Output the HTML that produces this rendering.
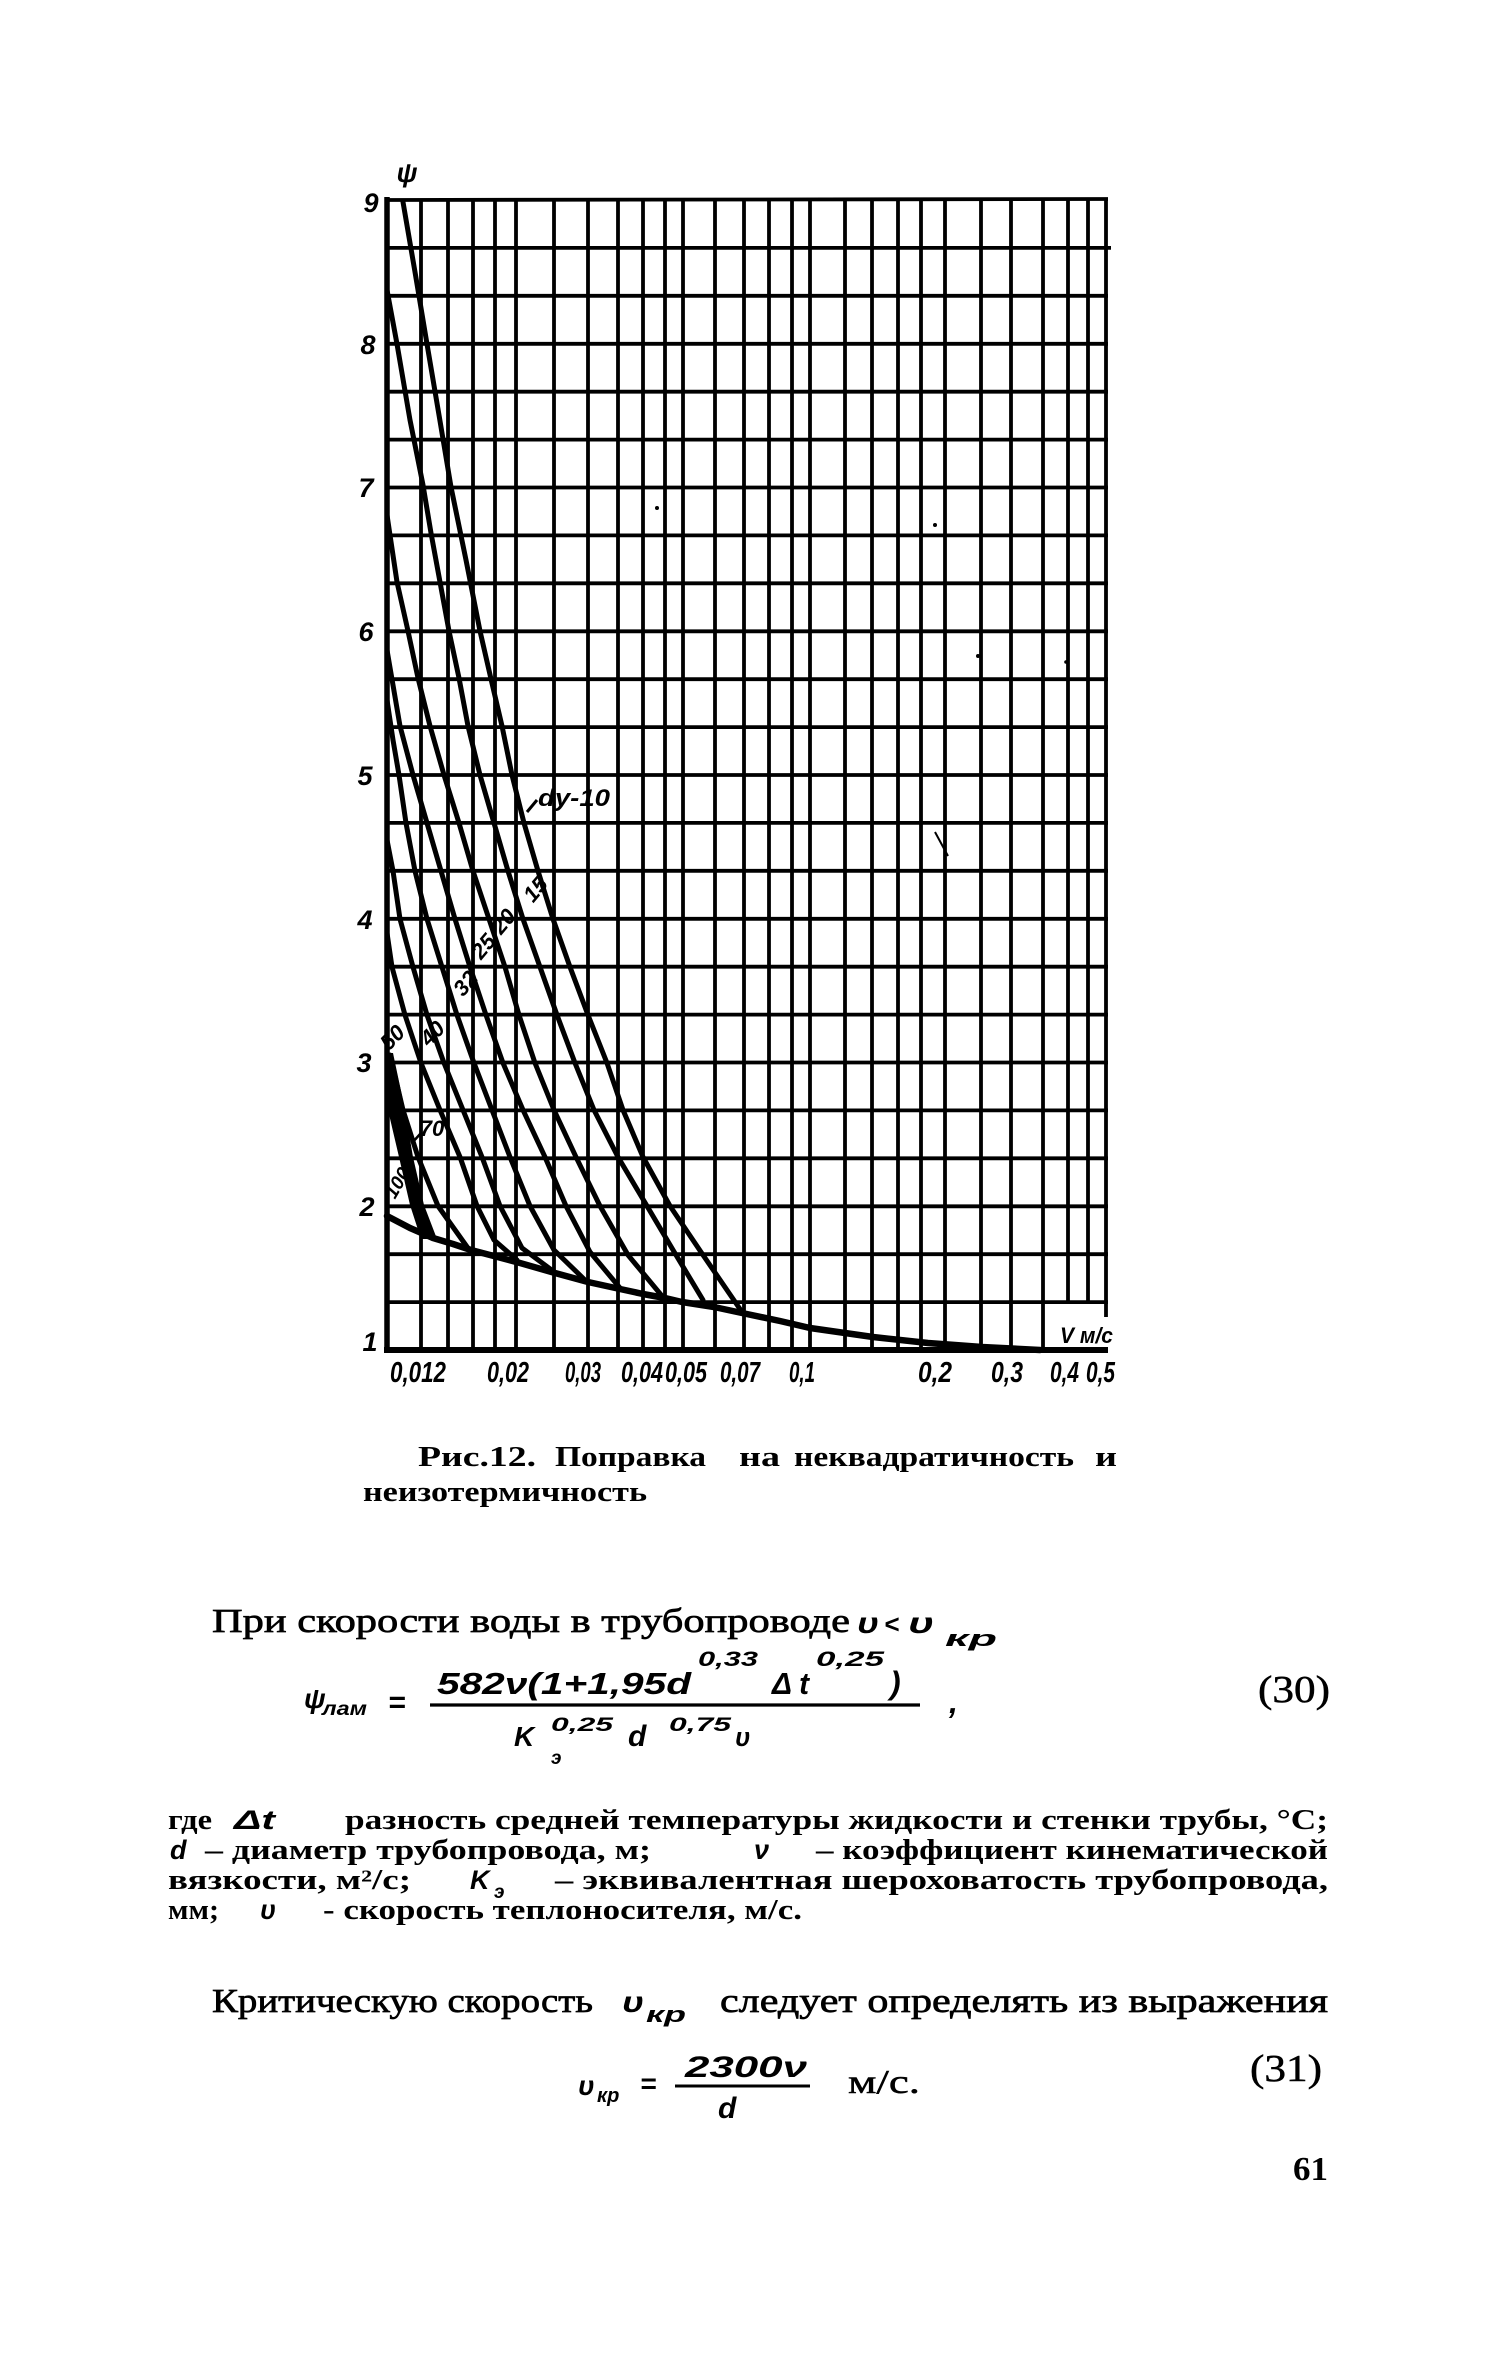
<!DOCTYPE html>
<html><head><meta charset="utf-8"><style>
html,body{margin:0;padding:0;background:#fff;}
svg{display:block;}
.h{font-family:"Liberation Sans",sans-serif;font-style:italic;font-weight:bold;}
.f{font-family:"Liberation Sans",sans-serif;font-style:italic;}
.s{font-family:"Liberation Serif","Noto Serif CJK SC",serif;}
</style></head><body>
<svg width="1500" height="2361" viewBox="0 0 1500 2361" xmlns="http://www.w3.org/2000/svg">
<rect width="1500" height="2361" fill="#fff"/>
<!-- grid verticals -->
<g stroke="#000" stroke-width="3.8" fill="none">
<line x1="421" y1="200" x2="421" y2="1350"/>
<line x1="448" y1="200" x2="448" y2="1350"/>
<line x1="473" y1="200" x2="473" y2="1350"/>
<line x1="495" y1="200" x2="495" y2="1350"/>
<line x1="516" y1="200" x2="516" y2="1350"/>
<line x1="554" y1="200" x2="554" y2="1350"/>
<line x1="588" y1="200" x2="588" y2="1350"/>
<line x1="618" y1="200" x2="618" y2="1350"/>
<line x1="643" y1="200" x2="643" y2="1350"/>
<line x1="665" y1="200" x2="665" y2="1350"/>
<line x1="683" y1="200" x2="683" y2="1350"/>
<line x1="715" y1="200" x2="715" y2="1350"/>
<line x1="744" y1="200" x2="744" y2="1350"/>
<line x1="769" y1="200" x2="769" y2="1350"/>
<line x1="792" y1="200" x2="792" y2="1350"/>
<line x1="810" y1="200" x2="810" y2="1350"/>
<line x1="845" y1="200" x2="845" y2="1350"/>
<line x1="872" y1="200" x2="872" y2="1350"/>
<line x1="898" y1="200" x2="898" y2="1350"/>
<line x1="921" y1="200" x2="921" y2="1350"/>
<line x1="945" y1="200" x2="945" y2="1350"/>
<line x1="981" y1="200" x2="981" y2="1350"/>
<line x1="1011" y1="200" x2="1011" y2="1350"/>
<line x1="1043" y1="200" x2="1043" y2="1350"/>
<line x1="1068" y1="200" x2="1068" y2="1303"/>
<line x1="1088" y1="200" x2="1088" y2="1303"/>
<line x1="1106" y1="198" x2="1106" y2="1317"/>
</g>
<!-- grid horizontals -->
<g stroke="#000" stroke-width="3.8" fill="none">
<line x1="385" y1="200" x2="1108" y2="199"/>
<line x1="387" y1="247.9" x2="1111" y2="247.9"/>
<line x1="387" y1="295.8" x2="1108" y2="295.8"/>
<line x1="387" y1="343.8" x2="1108" y2="343.8"/>
<line x1="387" y1="391.7" x2="1108" y2="391.7"/>
<line x1="387" y1="439.6" x2="1108" y2="439.6"/>
<line x1="387" y1="487.5" x2="1108" y2="487.5"/>
<line x1="387" y1="535.4" x2="1108" y2="535.4"/>
<line x1="387" y1="583.3" x2="1108" y2="583.3"/>
<line x1="387" y1="631.3" x2="1108" y2="631.3"/>
<line x1="387" y1="679.2" x2="1108" y2="679.2"/>
<line x1="387" y1="727.1" x2="1108" y2="727.1"/>
<line x1="387" y1="775" x2="1108" y2="775"/>
<line x1="387" y1="822.9" x2="1108" y2="822.9"/>
<line x1="387" y1="870.8" x2="1108" y2="870.8"/>
<line x1="387" y1="918.8" x2="1108" y2="918.8"/>
<line x1="387" y1="966.7" x2="1108" y2="966.7"/>
<line x1="387" y1="1014.6" x2="1108" y2="1014.6"/>
<line x1="387" y1="1062.5" x2="1108" y2="1062.5"/>
<line x1="387" y1="1110.4" x2="1108" y2="1110.4"/>
<line x1="387" y1="1158.3" x2="1108" y2="1158.3"/>
<line x1="387" y1="1206.3" x2="1108" y2="1206.3"/>
<line x1="387" y1="1254.2" x2="1108" y2="1254.2"/>
<line x1="387" y1="1302.1" x2="1108" y2="1302.1"/>
</g>
<!-- axes -->
<line x1="387" y1="197" x2="387" y2="1353" stroke="#000" stroke-width="5.5"/>
<line x1="384" y1="1350" x2="1108" y2="1350" stroke="#000" stroke-width="6"/>
<!-- curves -->
<g stroke="#000" stroke-width="5" fill="none" stroke-linejoin="round" stroke-linecap="round">
<polyline points="403,202 415,272 427,344 439,415 451,487 466,560 480,631 491,679 502,726 512,775 524,823 538,871 553,919 570,967 588,1015 607,1063 623,1110 643,1157 670,1206 703,1255 742,1312"/>
<polyline points="387,290 397,344 410,420 423,485 431,533 440,582 449,631 459,678 468,726 480,775 494,823 508,871 523,919 540,967 557,1015 575,1063 594,1110 618,1157 647,1206 676,1255 703,1300"/>
<polyline points="387,515 397,582 408,631 418,678 430,726 444,775 459,823 473,871 489,919 505,967 519,1015 535,1063 554,1110 576,1157 600,1206 628,1255 662,1296"/>
<polyline points="387,650 400,726 413,775 427,823 441,871 455,919 470,967 486,1015 503,1063 523,1110 545,1157 566,1206 590,1252 620,1288"/>
<polyline points="387,700 393,740 399,775 406,823 415,871 427,919 442,967 457,1015 474,1063 492,1110 510,1157 530,1206 554,1250 587,1282"/>
<polyline points="387,840 393,871 400,919 413,967 427,1015 444,1063 463,1110 482,1157 500,1206 522,1248 557,1274"/>
<polyline points="387,933 392,967 405,1015 421,1063 440,1110 460,1157 477,1206 494,1240 517,1260"/>
<polyline points="390,1055 403,1110 418,1157 438,1206 470,1251"/>
</g>
<polygon points="385,1053 393,1053 405,1110 413,1157 424,1205 437,1239 421,1239 410,1205 399,1157 388,1110" fill="#000"/>
<!-- envelope -->
<polyline points="387,1216 410,1228 433,1238 453,1244 471,1250 490,1255 520,1263 555,1273 588,1282 620,1289 643,1294 665,1298 682,1302 714,1307 742,1313 780,1321 810,1328 873,1337 928,1343 982,1347 1040,1350" stroke="#000" stroke-width="6.5" fill="none" stroke-linejoin="round" stroke-linecap="round"/>
<!-- stray marks -->
<line x1="935" y1="832" x2="948" y2="856" stroke="#000" stroke-width="2"/>
<circle cx="657" cy="508" r="2" fill="#000"/>
<circle cx="935" cy="525" r="2" fill="#000"/>
<circle cx="978" cy="656" r="2" fill="#000"/>
<circle cx="1066" cy="662" r="1.8" fill="#000"/>
<!-- y-axis labels -->
<g class="h" font-size="27" text-anchor="middle" fill="#000">
<text x="407" y="182">ψ</text>
<text x="371" y="212">9</text>
<text x="368" y="354">8</text>
<text x="366" y="497">7</text>
<text x="366" y="641">6</text>
<text x="365" y="785">5</text>
<text x="365" y="929">4</text>
<text x="364" y="1072">3</text>
<text x="367" y="1216">2</text>
<text x="370" y="1351">1</text>
</g>
<!-- x-axis labels -->
<g class="h" font-size="29" fill="#000">
<text x="390" y="1382" textLength="56" lengthAdjust="spacingAndGlyphs">0,012</text>
<text x="487" y="1382" textLength="42" lengthAdjust="spacingAndGlyphs">0,02</text>
<text x="565" y="1382" textLength="36" lengthAdjust="spacingAndGlyphs">0,03</text>
<text x="621" y="1382" textLength="42" lengthAdjust="spacingAndGlyphs">0,04</text>
<text x="665" y="1382" textLength="42" lengthAdjust="spacingAndGlyphs">0,05</text>
<text x="720" y="1382" textLength="40" lengthAdjust="spacingAndGlyphs">0,07</text>
<text x="789" y="1382" textLength="26" lengthAdjust="spacingAndGlyphs">0,1</text>
<text x="918" y="1382" textLength="34" lengthAdjust="spacingAndGlyphs">0,2</text>
<text x="991" y="1382" textLength="32" lengthAdjust="spacingAndGlyphs">0,3</text>
<text x="1050" y="1382" textLength="29" lengthAdjust="spacingAndGlyphs">0,4</text>
<text x="1086" y="1382" textLength="29" lengthAdjust="spacingAndGlyphs">0,5</text>
<text x="1060" y="1343" font-size="22" textLength="53" lengthAdjust="spacingAndGlyphs">V м/с</text>
</g>
<!-- curve labels -->
<g class="h" font-size="24" fill="#000">
<text x="538" y="806" textLength="72" lengthAdjust="spacingAndGlyphs">dy-10</text>
<line x1="527" y1="812" x2="537" y2="800" stroke="#000" stroke-width="3"/>
<text x="535" y="897" text-anchor="middle" transform="rotate(-50 535 889)" font-size="22">15</text>
<text x="503" y="929" text-anchor="middle" transform="rotate(-50 503 921)" font-size="22">20</text>
<text x="483" y="954" text-anchor="middle" transform="rotate(-50 483 946)" font-size="22">25</text>
<text x="465" y="991" text-anchor="middle" transform="rotate(-50 465 983)" font-size="22">32</text>
<text x="432" y="1041" text-anchor="middle" transform="rotate(-45 432 1033)" font-size="22">40</text>
<text x="392" y="1045" text-anchor="middle" transform="rotate(-45 392 1037)" font-size="22">50</text>
<text x="432" y="1136" text-anchor="middle" font-size="22">70</text>
<line x1="412" y1="1143" x2="421" y2="1133" stroke="#000" stroke-width="2.5"/>
<text x="396" y="1190" text-anchor="middle" transform="rotate(-60 396 1182)" font-size="19">100</text>
</g>
<!-- caption -->
<g class="s" fill="#000" font-size="28" font-weight="bold">
<text x="418" y="1466" textLength="118" lengthAdjust="spacingAndGlyphs">Рис.12.</text>
<text x="555" y="1466" textLength="151" lengthAdjust="spacingAndGlyphs">Поправка</text>
<text x="739" y="1466" textLength="41" lengthAdjust="spacingAndGlyphs">на</text>
<text x="794" y="1466" textLength="280" lengthAdjust="spacingAndGlyphs">неквадратичность</text>
<text x="1095" y="1466" textLength="22" lengthAdjust="spacingAndGlyphs">и</text>
<text x="363" y="1501" textLength="284" lengthAdjust="spacingAndGlyphs">неизотермичность</text>
</g>
<!-- body line -->
<g fill="#000">
<text class="s" x="212" y="1632" font-size="34" textLength="638" lengthAdjust="spacingAndGlyphs" stroke="#000" stroke-width="0.7">При скорости воды в трубопроводе</text>
<text class="h" x="857" y="1633" font-size="30" textLength="22" lengthAdjust="spacingAndGlyphs">υ</text>
<text class="h" x="884" y="1633" font-size="26">&lt;</text>
<text class="h" x="908" y="1633" font-size="30" textLength="26" lengthAdjust="spacingAndGlyphs">υ</text>
<text class="h" x="945" y="1646" font-size="22" textLength="52" lengthAdjust="spacingAndGlyphs">кр</text>
</g>
<!-- formula 30 -->
<g class="h" fill="#000">
<text x="304" y="1708" font-size="28">ψ</text>
<text x="322" y="1715" font-size="19" textLength="45" lengthAdjust="spacingAndGlyphs">лам</text>
<text x="388" y="1712" font-size="30">=</text>
<text x="437" y="1694" font-size="31" textLength="254" lengthAdjust="spacingAndGlyphs">582ν(1+1,95d</text>
<text x="698" y="1666" font-size="21" textLength="60" lengthAdjust="spacingAndGlyphs">0,33</text>
<text x="772" y="1694" font-size="31" textLength="37" lengthAdjust="spacingAndGlyphs">Δ t</text>
<text x="816" y="1666" font-size="21" textLength="68" lengthAdjust="spacingAndGlyphs">0,25</text>
<text x="890" y="1694" font-size="32">)</text>
<line x1="430" y1="1705" x2="920" y2="1705" stroke="#000" stroke-width="3.2"/>
<text x="514" y="1746" font-size="28">K</text>
<text x="551" y="1731" font-size="19" textLength="62" lengthAdjust="spacingAndGlyphs">0,25</text>
<text x="551" y="1764" font-size="19">э</text>
<text x="628" y="1746" font-size="30">d</text>
<text x="669" y="1731" font-size="19" textLength="62" lengthAdjust="spacingAndGlyphs">0,75</text>
<text x="735" y="1746" font-size="26">υ</text>
<text x="949" y="1713" font-size="32">,</text>
</g>
<text class="s" x="1258" y="1702" font-size="38" textLength="72" lengthAdjust="spacingAndGlyphs" fill="#000" stroke="#000" stroke-width="0.5">(30)</text>
<!-- paragraph -->
<g class="s" fill="#000" font-size="28" font-weight="bold">
<text x="168" y="1829" textLength="44" lengthAdjust="spacingAndGlyphs">где</text>
<text class="h" x="234" y="1829" font-size="27" textLength="41" lengthAdjust="spacingAndGlyphs">Δt</text>
<text x="345" y="1829" textLength="983" lengthAdjust="spacingAndGlyphs">разность средней температуры жидкости и стенки трубы, °С;</text>
<text class="h" x="170" y="1859" font-size="27">d</text>
<text x="205" y="1859" textLength="446" lengthAdjust="spacingAndGlyphs">– диаметр трубопровода, м;</text>
<text class="h" x="754" y="1859" font-size="27">ν</text>
<text x="816" y="1859" textLength="512" lengthAdjust="spacingAndGlyphs">– коэффициент кинематической</text>
<text x="168" y="1889" textLength="243" lengthAdjust="spacingAndGlyphs">вязкости, м²/с;</text>
<text class="h" x="470" y="1889" font-size="27">K</text>
<text class="h" x="494" y="1898" font-size="19">э</text>
<text x="555" y="1889" textLength="773" lengthAdjust="spacingAndGlyphs">– эквивалентная шероховатость трубопровода,</text>
<text x="168" y="1919" textLength="51" lengthAdjust="spacingAndGlyphs">мм;</text>
<text class="h" x="260" y="1919" font-size="27">υ</text>
<text x="323" y="1919" textLength="479" lengthAdjust="spacingAndGlyphs">- скорость теплоносителя, м/с.</text>
</g>
<!-- critical velocity line -->
<g fill="#000">
<text class="s" x="212" y="2012" font-size="34" textLength="381" lengthAdjust="spacingAndGlyphs" stroke="#000" stroke-width="0.7">Критическую скорость</text>
<text class="h" x="622" y="2012" font-size="30" textLength="22" lengthAdjust="spacingAndGlyphs">υ</text>
<text class="h" x="646" y="2022" font-size="22" textLength="40" lengthAdjust="spacingAndGlyphs">кр</text>
<text class="s" x="720" y="2012" font-size="34" textLength="608" lengthAdjust="spacingAndGlyphs" stroke="#000" stroke-width="0.7">следует определять из выражения</text>
</g>
<!-- formula 31 -->
<g class="h" fill="#000">
<text x="578" y="2095" font-size="28">υ</text>
<text x="597" y="2102" font-size="20">кр</text>
<text x="640" y="2093" font-size="28">=</text>
<text x="685" y="2077" font-size="30" textLength="122" lengthAdjust="spacingAndGlyphs">2300ν</text>
<line x1="675" y1="2086" x2="810" y2="2086" stroke="#000" stroke-width="3"/>
<text x="718" y="2118" font-size="30">d</text>
</g>
<text class="s" x="848" y="2093" font-size="34" textLength="72" lengthAdjust="spacingAndGlyphs" fill="#000" stroke="#000" stroke-width="0.5">м/с.</text>
<text class="s" x="1250" y="2081" font-size="38" textLength="72" lengthAdjust="spacingAndGlyphs" fill="#000" stroke="#000" stroke-width="0.5">(31)</text>
<text class="s" x="1293" y="2180" font-size="34" font-weight="bold" textLength="35" lengthAdjust="spacingAndGlyphs" fill="#000">61</text>
</svg>
</body></html>
